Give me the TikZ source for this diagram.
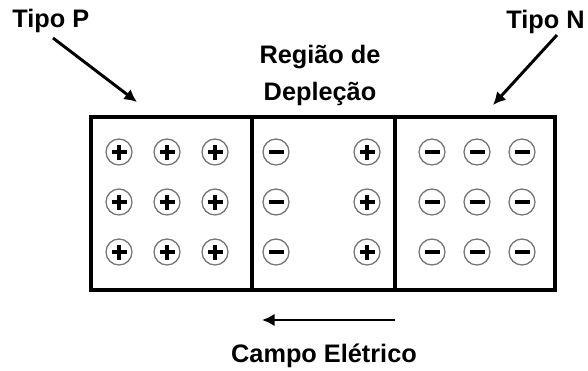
\documentclass[tikz,border=0pt]{standalone}
\usepackage{fontspec}
\setmainfont{Liberation Sans}
\usetikzlibrary{arrows.meta}
\tikzset{
	ion/.style={draw=black!55, line width=0.9pt, fill=white},
	sinal/.style={line width=2.2pt},
	parede/.style={line width=2.6pt},
	seta/.style={line width=2.1pt, -{Latex[length=9pt,width=9pt]}},
	rotulo/.style={font=\fontsize{18}{21}\selectfont\bfseries, inner sep=0pt}
}
\def\poscharge(#1,#2){\draw[ion] (#1,#2) circle (13); \draw[sinal] (#1-7.5,#2) -- (#1+7.5,#2) (#1,#2-7.5) -- (#1,#2+7.5);}
\def\negcharge(#1,#2){\draw[ion] (#1,#2) circle (13); \draw[sinal] (#1-7.5,#2) -- (#1+7.5,#2);}

\begin{document}
\begin{tikzpicture}[x=0.025cm, y=-0.025cm]
			%%%%% START %%%%%
			\useasboundingbox (0, 0) rectangle (588, 370);
			
			% cristal
			\draw[parede] (91, 117) rectangle (555, 290);
			\draw[parede] (252, 117) -- (252, 290);
			\draw[parede] (395, 117) -- (395, 290);
			
			% lado P
			\poscharge(119, 152) \poscharge(167, 152) \poscharge(215, 152)
			\poscharge(119, 202) \poscharge(167, 202) \poscharge(215, 202)
			\poscharge(119, 252) \poscharge(167, 252) \poscharge(215, 252)
			
			% deplecao
			\negcharge(276, 152) \poscharge(367, 152)
			\negcharge(276, 202) \poscharge(367, 202)
			\negcharge(276, 252) \poscharge(367, 252)
			
			% lado N
			\negcharge(432, 152) \negcharge(477, 152) \negcharge(522, 152)
			\negcharge(432, 202) \negcharge(477, 202) \negcharge(522, 202)
			\negcharge(432, 252) \negcharge(477, 252) \negcharge(522, 252)
			
			% rotulos
			\node[rotulo, anchor=base west] (tipoP) at (12, 27) {Tipo P};
			\node[rotulo, anchor=base east] (tipoN) at (585, 28) {Tipo N};
			\node[rotulo, anchor=base] (regiao) at (320, 63) {Região de};
			\node[rotulo, anchor=base] (deplecao) at (320, 100) {Depleção};
			\node[rotulo, anchor=base] (campo) at (324, 362) {Campo Elétrico};
			
			% setas
			\coordinate (pIni) at (53, 38);
			\coordinate (pFim) at (137, 102);
			\coordinate (nIni) at (557, 35);
			\coordinate (nFim) at (493, 105);
			\coordinate (eIni) at (395, 320);
			\coordinate (eFim) at (262, 320);
			\draw[seta] (pIni) -- (pFim);
			\draw[seta] (nIni) -- (nFim);
			\draw[seta] (eIni) -- (eFim);
			%%%%% END %%%%%
\end{tikzpicture}
\end{document}
